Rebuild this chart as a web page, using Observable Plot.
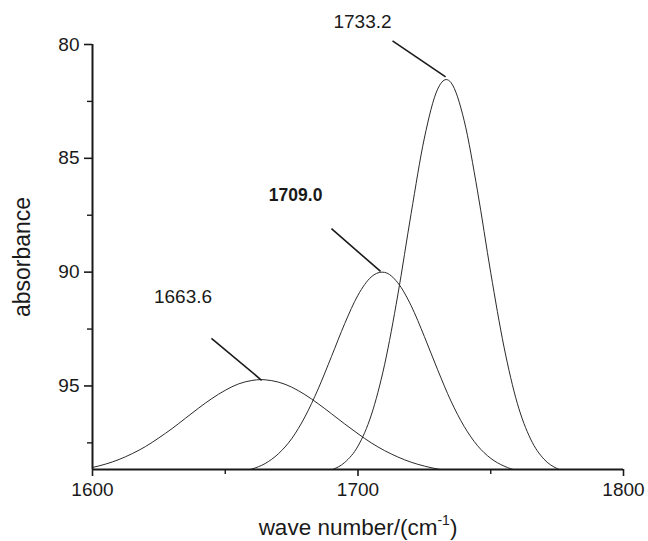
<!DOCTYPE html>
<html>
<head>
<meta charset="utf-8">
<script src="https://cdn.jsdelivr.net/npm/d3@7"></script>
<script src="https://cdn.jsdelivr.net/npm/@observablehq/plot@0.6"></script>
<style>
  html, body { margin: 0; padding: 0; background: #fff; }
  #chart svg { display: block; }
</style>
</head>
<body>
<div id="chart"></div>
<script>
// ---- data ----
const peak1Wave = [1600,1605,1610,1615,1620,1625,1630,1635,1640,1645,1650,1655,1660,1663.6,1665,1670,1675,1680,1685,1690,1695,1700,1705,1710,1715,1720,1725,1730,1735,1740];
const peak1Abs  = [98.58,98.43,98.23,97.97,97.66,97.28,96.87,96.42,95.97,95.55,95.19,94.91,94.76,94.72,94.73,94.83,95.05,95.38,95.78,96.22,96.67,97.10,97.50,97.84,98.12,98.35,98.52,98.65,98.74,98.80];

const peak2Wave = [1650,1655,1660,1665,1670,1675,1680,1685,1690,1695,1700,1705,1709,1710,1715,1720,1725,1730,1735,1740,1745,1750,1755,1760,1765];
const peak2Abs  = [98.85,98.79,98.65,98.41,97.98,97.32,96.36,95.13,93.71,92.26,91.01,90.21,90.00,90.01,90.47,91.47,92.83,94.29,95.66,96.78,97.62,98.18,98.52,98.72,98.82];

const peak3Wave = [1685,1690,1695,1700,1705,1710,1715,1720,1725,1730,1733.2,1735,1740,1745,1750,1755,1760,1765,1770,1775,1780];
const peak3Abs  = [98.83,98.69,98.36,97.64,96.28,94.07,91.00,87.43,84.11,81.96,81.54,81.67,83.35,86.43,90.03,93.29,95.76,97.33,98.21,98.63,98.81];

// annotations
const peakLabels  = ["1663.6", "1709.0", "1733.2"];
const peakBold    = [false, true, false];
const labelWave   = [1634.1, 1676.5, 1701.7];
const labelAbs    = [91.09, 86.64, 79.01];
const leaderWave1 = [1644.8, 1690.0, 1713.0];
const leaderAbs1  = [92.91, 88.09, 79.84];
const leaderWave2 = [1663.7, 1708.5, 1733.0];
const leaderAbs2  = [94.75, 89.97, 81.42];

// axes
const xDomain = [1600, 1800];
const yDomain = [80, 98.67];
const xMajorTicks = [1600, 1700, 1800];
const xMinorTicks = [1650, 1750];
const yMajorTicks = [80, 85, 90, 95];
const yMinorTicks = [82.5, 87.5, 92.5, 97.5];
const xLabel = "wave number/(cm-1)";
const yLabel = "absorbance";

// ---- build tables ----
const curves = [
  peak1Wave.map((w, i) => ({w, a: peak1Abs[i], s: "p1"})),
  peak2Wave.map((w, i) => ({w, a: peak2Abs[i], s: "p2"})),
  peak3Wave.map((w, i) => ({w, a: peak3Abs[i], s: "p3"}))
].flat();
const ann = peakLabels.map((t, i) => ({
  t, bold: peakBold[i], x: labelWave[i], y: labelAbs[i],
  x1: leaderWave1[i], y1: leaderAbs1[i], x2: leaderWave2[i], y2: leaderAbs2[i]
}));

const ink = "#1a1a1a";
const font = "'Liberation Sans', Arial, sans-serif";

const chart = Plot.plot({
  width: 648,
  height: 541,
  marginLeft: 92,
  marginRight: 25,
  marginTop: 44,
  marginBottom: 72,
  style: {fontFamily: font, background: "#fff", color: ink},
  x: {domain: xDomain},
  y: {domain: yDomain, reverse: true},
  marks: [
    Plot.line(curves, {x: "w", y: "a", z: "s", stroke: "#2a2a2a", strokeWidth: 1, curve: "monotone-x", clip: true}),
    Plot.link(ann, {x1: "x1", y1: "y1", x2: "x2", y2: "y2", stroke: ink, strokeWidth: 1.6}),
    Plot.text(ann.filter(d => !d.bold), {x: "x", y: "y", text: "t", fontSize: 19, fill: ink}),
    Plot.text(ann.filter(d => d.bold), {x: "x", y: "y", text: "t", fontSize: 17.5, fontWeight: "bold", fill: ink}),
    Plot.ruleX([xDomain[0]], {stroke: ink, strokeWidth: 2}),
    Plot.ruleY([yDomain[1]], {stroke: ink, strokeWidth: 2}),
    Plot.axisY({ticks: yMajorTicks, tickSize: 8, tickPadding: 5, fontSize: 19, strokeWidth: 1.6, label: null, tickFormat: d => String(d)}),
    Plot.axisY({ticks: yMinorTicks, tickSize: 5, tickPadding: 0, strokeWidth: 1.4, label: null, tickFormat: () => ""}),
    Plot.axisX({ticks: xMajorTicks, tickSize: 7, tickPadding: 6, fontSize: 19, strokeWidth: 1.6, label: null, tickFormat: d => String(d)}),
    Plot.axisX({ticks: xMinorTicks, tickSize: 5, tickPadding: 0, strokeWidth: 1.4, label: null, tickFormat: () => ""}),
    Plot.text([yLabel], {frameAnchor: "left", textAnchor: "middle", rotate: -90, dx: -70, fontSize: 23, fill: ink}),
    Plot.text([xLabel], {frameAnchor: "bottom", textAnchor: "middle", dy: 65, fontSize: 22.5, fill: ink})
  ]
});

document.getElementById("chart").appendChild(chart);

// superscript for the x label unit
d3.select(chart).selectAll("text")
  .filter(function () { return this.textContent === xLabel; })
  .each(function () {
    const t = d3.select(this);
    t.text("wave number/(cm");
    t.append("tspan").attr("font-size", 14).attr("dy", -10).text("-1");
    t.append("tspan").attr("font-size", 22.5).attr("dy", 10).text(")");
  });
</script>
</body>
</html>
